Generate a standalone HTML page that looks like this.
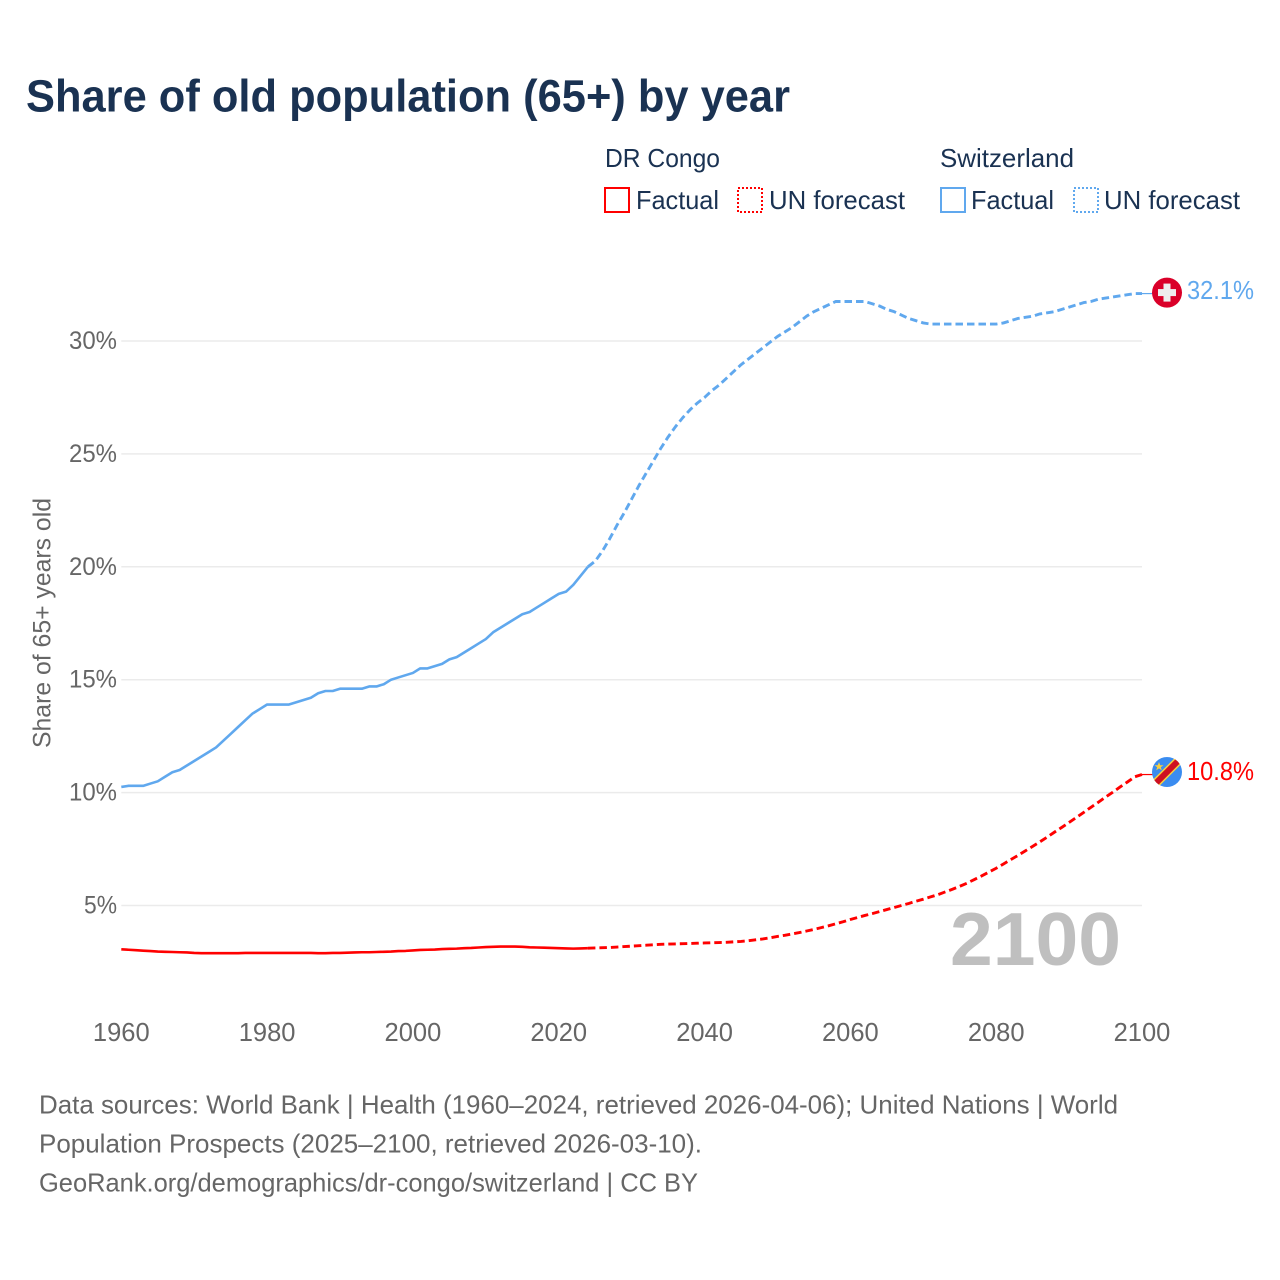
<!DOCTYPE html>
<html lang="en">
<head>
<meta charset="utf-8">
<title>Share of old population (65+) by year</title>
<style>
html,body{margin:0;padding:0;background:#fff;width:1280px;height:1280px;overflow:hidden}
svg{display:block}
text{font-family:"Liberation Sans",sans-serif}
.legend{font-size:26px;fill:#1a3252}
.foot{font-size:26px;fill:#666}
</style>
</head>
<body>
<svg id="chart" xmlns="http://www.w3.org/2000/svg" width="1280" height="1280" viewBox="0 0 1280 1280">
  <rect width="1280" height="1280" fill="#fff"/>
  <text x="26" y="111.5" font-size="45" font-weight="700" fill="#1a3252" textLength="764" lengthAdjust="spacingAndGlyphs">Share of old population (65+) by year</text>

  <g>
    <text class="legend" x="605" y="167" textLength="115" lengthAdjust="spacingAndGlyphs">DR Congo</text>
    <rect x="605" y="188" width="24" height="24" fill="none" stroke="#ff0000" stroke-width="2"/>
    <text class="legend" x="636" y="209" textLength="83" lengthAdjust="spacingAndGlyphs">Factual</text>
    <rect x="738" y="188" width="24" height="24" fill="none" stroke="#ff0000" stroke-width="2" stroke-dasharray="2 2"/>
    <text class="legend" x="769" y="209" textLength="136" lengthAdjust="spacingAndGlyphs">UN forecast</text>
    <text class="legend" x="940" y="167" textLength="134" lengthAdjust="spacingAndGlyphs">Switzerland</text>
    <rect x="941" y="188" width="24" height="24" fill="none" stroke="#60a8ee" stroke-width="2"/>
    <text class="legend" x="971" y="209" textLength="83" lengthAdjust="spacingAndGlyphs">Factual</text>
    <rect x="1074" y="188" width="24" height="24" fill="none" stroke="#60a8ee" stroke-width="2" stroke-dasharray="2 2"/>
    <text class="legend" x="1104" y="209" textLength="136" lengthAdjust="spacingAndGlyphs">UN forecast</text>
  </g>

  <text transform="translate(50.5,748) rotate(-90)" font-size="25" fill="#666" textLength="250" lengthAdjust="spacingAndGlyphs">Share of 65+ years old</text>

  <g id="grid"></g>
  <g id="yticks"></g>
  <g id="xticks"></g>

  <text x="950" y="965" font-size="75" font-weight="700" fill="#bfbfbf" textLength="171" lengthAdjust="spacingAndGlyphs">2100</text>

  <g id="series"></g>

  <g id="flag-ch">
    <circle cx="0" cy="0" r="15" fill="#da0029"/>
    <rect x="-9" y="-3.5" width="18" height="7" fill="#eeeeee"/>
    <rect x="-3.5" y="-9" width="7" height="18" fill="#eeeeee"/>
  </g>
  <g id="flag-cd">
    <defs><clipPath id="flag-clip"><circle cx="0" cy="0" r="15"/></clipPath></defs>
    <g clip-path="url(#flag-clip)">
      <rect x="-15" y="-15" width="30" height="30" fill="#3a8cf0"/>
      <line x1="-16" y1="16" x2="16" y2="-16" stroke="#f9d13e" stroke-width="9"/>
      <line x1="-16" y1="16" x2="16" y2="-16" stroke="#ce1021" stroke-width="6"/>
      <polygon points="-8,-10 -6.8,-6.8 -3.5,-6.8 -6.2,-4.8 -5.2,-1.6 -8,-3.6 -10.8,-1.6 -9.8,-4.8 -12.5,-6.8 -9.2,-6.8" fill="#f9d13e"/>
    </g>
  </g>
  <text id="label-ch" x="1187" font-size="26" fill="#60a8ee" textLength="67" lengthAdjust="spacingAndGlyphs"></text>
  <text id="label-cd" x="1187" font-size="26" fill="#ff0000" textLength="67" lengthAdjust="spacingAndGlyphs"></text>

  <g>
    <text class="foot" x="39" y="1113.5" textLength="1079" lengthAdjust="spacingAndGlyphs">Data sources: World Bank | Health (1960–2024, retrieved 2026-04-06); United Nations | World</text>
    <text class="foot" x="39" y="1152.5" textLength="663" lengthAdjust="spacingAndGlyphs">Population Prospects (2025–2100, retrieved 2026-03-10).</text>
    <text class="foot" x="39" y="1191.5" textLength="659" lengthAdjust="spacingAndGlyphs">GeoRank.org/demographics/dr-congo/switzerland | CC BY</text>
  </g>
</svg>
<script>
const firstYear = 1960;
const lastYear = 2100;
const xTickLabels = [1960, 1980, 2000, 2020, 2040, 2060, 2080, 2100];
const yTickValues = [5, 10, 15, 20, 25, 30];
// 1960–2024
const swissFactual = [10.25,10.3,10.3,10.3,10.4,10.5,10.7,10.9,11.0,11.2,11.4,11.6,11.8,12.0,12.3,12.6,12.9,13.2,13.5,13.7,13.9,13.9,13.9,13.9,14.0,14.1,14.2,14.4,14.5,14.5,14.6,14.6,14.6,14.6,14.7,14.7,14.8,15.0,15.1,15.2,15.3,15.5,15.5,15.6,15.7,15.9,16.0,16.2,16.4,16.6,16.8,17.1,17.3,17.5,17.7,17.9,18.0,18.2,18.4,18.6,18.8,18.9,19.2,19.6,20.0];
// 2025–2100
const swissForecast = [20.25,20.7,21.25,21.85,22.4,23.0,23.6,24.15,24.7,25.25,25.75,26.2,26.6,26.95,27.25,27.5,27.8,28.05,28.35,28.65,28.95,29.2,29.45,29.7,29.95,30.2,30.4,30.6,30.85,31.1,31.3,31.45,31.6,31.75,31.75,31.75,31.75,31.75,31.65,31.55,31.4,31.3,31.15,31.0,30.9,30.8,30.75,30.75,30.75,30.75,30.75,30.75,30.75,30.75,30.75,30.75,30.8,30.9,31.0,31.05,31.1,31.2,31.25,31.3,31.4,31.5,31.6,31.7,31.75,31.85,31.9,31.95,32.0,32.05,32.1,32.1];
// 1960–2024
const congoFactual = [3.06,3.04,3.02,3.0,2.98,2.96,2.95,2.94,2.93,2.92,2.9,2.89,2.89,2.89,2.89,2.89,2.89,2.9,2.9,2.9,2.9,2.9,2.9,2.9,2.9,2.9,2.9,2.89,2.89,2.9,2.9,2.91,2.92,2.93,2.93,2.94,2.95,2.96,2.98,2.99,3.01,3.03,3.04,3.05,3.07,3.08,3.09,3.11,3.12,3.14,3.16,3.17,3.18,3.18,3.18,3.17,3.15,3.14,3.13,3.12,3.11,3.1,3.09,3.1,3.11];
// 2025–2100
const congoForecast = [3.12,3.13,3.14,3.16,3.18,3.2,3.22,3.24,3.26,3.28,3.29,3.3,3.31,3.32,3.33,3.34,3.35,3.36,3.37,3.39,3.41,3.44,3.48,3.52,3.57,3.63,3.68,3.74,3.8,3.87,3.94,4.02,4.1,4.19,4.28,4.38,4.47,4.56,4.64,4.73,4.82,4.91,5.0,5.09,5.19,5.28,5.38,5.48,5.6,5.72,5.85,5.99,6.15,6.31,6.48,6.65,6.84,7.03,7.22,7.42,7.62,7.82,8.03,8.25,8.46,8.68,8.9,9.12,9.35,9.57,9.8,10.02,10.25,10.47,10.7,10.8];

const NS = 'http://www.w3.org/2000/svg';
const xAxis = year => 121.3 + (year - firstYear) * (1142 - 121.3) / (lastYear - firstYear);
const yAxis = pct => 905.5 - (pct - 5) * 22.58;

const gridGroup = document.getElementById('grid');
const yTickGroup = document.getElementById('yticks');
const xTickGroup = document.getElementById('xticks');
const seriesGroup = document.getElementById('series');

yTickValues.forEach(function (value) {
  const line = document.createElementNS(NS, 'line');
  
  
  line.setAttribute('x1', xAxis(firstYear));
  line.setAttribute('x2', xAxis(lastYear));
  line.setAttribute('y1', yAxis(value));
  line.setAttribute('y2', yAxis(value));
  line.setAttribute('stroke', '#ebebeb');
  line.setAttribute('stroke-width', '1.5');
  gridGroup.appendChild(line);

  const label = document.createElementNS(NS, 'text');
  
  
  const text = value + '%';
  label.setAttribute('x', text.length === 3 ? 69 : 84);
  label.setAttribute('y', yAxis(value) + 8);
  label.setAttribute('font-size', '25');
  label.setAttribute('fill', '#666');
  label.setAttribute('textLength', text.length === 3 ? 48 : 33);
  label.setAttribute('lengthAdjust', 'spacingAndGlyphs');
  label.textContent = text;
  yTickGroup.appendChild(label);
});

xTickLabels.forEach(function (year) {
  const label = document.createElementNS(NS, 'text');
  
  
  label.setAttribute('x', xAxis(year));
  label.setAttribute('y', 1041);
  label.setAttribute('text-anchor', 'middle');
  label.setAttribute('font-size', '25.5');
  label.setAttribute('fill', '#666');
  label.textContent = year;
  xTickGroup.appendChild(label);
});

function pathFrom(values, startYear) {
  return values.map(function (v, i) {
    return (i ? 'L' : 'M') + xAxis(startYear + i).toFixed(2) + ' ' + yAxis(v).toFixed(2);
  }).join(' ');
}

function addLine(name, d, color, dash, width) {
  const path = document.createElementNS(NS, 'path');
  
  
  path.setAttribute('d', d);
  path.setAttribute('fill', 'none');
  path.setAttribute('stroke', color);
  path.setAttribute('stroke-width', width);
  path.setAttribute('stroke-linejoin', 'round');
  if (dash) path.setAttribute('stroke-dasharray', dash);
  seriesGroup.appendChild(path);
}

function addSeries(key, factual, forecast, color) {
  const lastFactual = factual[factual.length - 1];
  const lastValue = forecast[forecast.length - 1];
  const forecastStart = firstYear + factual.length - 1;
  addLine(key + '-factual-line', pathFrom(factual, firstYear), color, null, 2.6);
  addLine(key + '-forecast-line', pathFrom([lastFactual].concat(forecast), forecastStart), color, '7.5 4', 2.9);
  addLine(key + '-flag-connector', 'M' + xAxis(lastYear) + ' ' + yAxis(lastValue) + ' H1153', color, null, 1.2);
}

addSeries('switzerland', swissFactual, swissForecast, '#60a8ee');
addSeries('dr-congo', congoFactual, congoForecast, '#ff0000');

function placeEnd(flagId, labelId, values, offset, labelOffset) {
  const last = values[values.length - 1];
  const cy = yAxis(last) + offset;
  document.getElementById(flagId).setAttribute('transform', 'translate(1167,' + cy + ')');
  const label = document.getElementById(labelId);
  label.setAttribute('y', cy + labelOffset);
  label.textContent = last.toFixed(1) + '%';
}

placeEnd('flag-ch', 'label-ch', swissForecast, -1, 6.5);
placeEnd('flag-cd', 'label-cd', congoForecast, -2.5, 8);
</script>
</body>
</html>
